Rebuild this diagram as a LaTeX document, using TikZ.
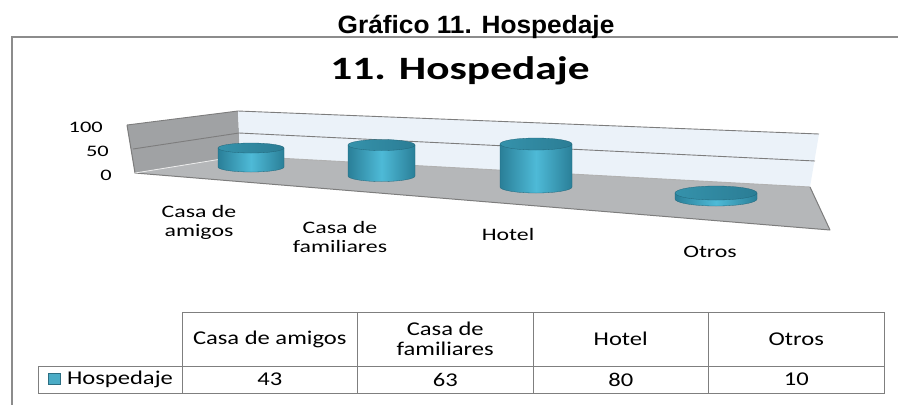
\documentclass[tikz,border=0pt]{standalone}
\usepackage{fontspec}
\setmainfont{Carlito}[FakeStretch=1.26]
\newfontfamily\headfont{Liberation Sans}[FakeStretch=1.05]
\newfontfamily\titlefont{Carlito}[FakeStretch=1.33]
\newfontfamily\chartfont{Carlito}[FakeStretch=1.36]
\newfontfamily\axisfont{Carlito}[FakeStretch=1.4]
\usetikzlibrary{positioning}

\definecolor{framegray}{HTML}{8C8C8C}
\definecolor{tabline}{HTML}{7F7F7F}
\definecolor{sidewall}{HTML}{A0A2A4}
\definecolor{backwall}{HTML}{EBF2F9}
\definecolor{floorgray}{HTML}{B5B7B9}
\definecolor{gridgray}{HTML}{7D7D7D}
\definecolor{cyldark}{HTML}{2A7F98}
\definecolor{cyllight}{HTML}{4EBAD7}
\definecolor{cyltopl}{HTML}{3592AB}
\definecolor{cyltopr}{HTML}{2B7D95}
\definecolor{keyfill}{HTML}{4BACC6}
\definecolor{keydraw}{HTML}{2C6E82}

\tikzset{
  gridline/.style={draw=gridgray, line width=0.9pt},
  edgeline/.style={draw=gridgray, line width=1pt, line join=round},
  cylbody/.style={left color=cyldark, right color=cyldark, middle color=cyllight, draw=cyldark!80!black, line width=0.3pt},
  cyltop/.style={left color=cyltopl, right color=cyltopr, draw=cyldark!80!black, line width=0.3pt},
  catlabel/.style={font=\chartfont\fontsize{17.5}{19}\selectfont, align=center, inner sep=0pt},
  axislabel/.style={font=\axisfont\fontsize{16}{16}\selectfont, inner sep=0pt, anchor=base east},
  cell/.style={draw=tabline, line width=1pt, outer sep=0pt, inner sep=0pt, minimum width=175.5pt, minimum height=54pt},
  cellrow/.style={cell, minimum height=27pt},
  celltext/.style={font=\fontsize{19.5}{19.5}\selectfont, align=center, inner sep=0pt},
  keybox/.style={draw=keydraw, fill=keyfill, line width=0.8pt, minimum width=12pt, minimum height=11pt, inner sep=0pt}
}

\begin{document}
\begin{tikzpicture}[x=1pt,y=-1pt]
    \useasboundingbox (0,0) rectangle (898,405);
    % frame and headings
    \draw[framegray, line width=1.5pt] (898,37) -- (12,37) -- (12,405);
    \node[font=\headfont\bfseries\fontsize{25}{25}\selectfont, anchor=base, inner sep=0pt] (head) at (476,33) {Gráfico 11. Hospedaje};
    \node[font=\titlefont\bfseries\fontsize{32.6}{33}\selectfont, anchor=base, inner sep=0pt] (title) at (460,79) {11. Hospedaje};
    % walls and floor
    \fill[sidewall] (127,125) -- (238,111) -- (240,156) -- (135,173) -- cycle;
    \fill[backwall] (238,111) -- (819,134) -- (810,187) -- (240,156) -- cycle;
    \fill[floorgray] (135,173) -- (240,156) -- (810,187) -- (830,230) -- cycle;
    \draw[gridline] (127,125) -- (238,111) -- (819,134);
    \draw[gridline] (133,149) -- (239,133) -- (815,161);
    \draw[gridline, draw=gridgray!60] (240,156) -- (810,187);
    \draw[edgeline] (127,125) -- (135,173) -- (830,230) -- (810,187);
    \draw[draw=white!85!gray, line width=0.8pt] (135,173) -- (240,156);
    % axis values
    \node[axislabel] (v100) at (103,132) {100};
    \node[axislabel] (v50) at (109,156) {50};
    \node[axislabel] (v0) at (112,180) {0};
    % cylinders
    \path[cylbody] (218,148) -- (218,167) arc[start angle=180, end angle=360, x radius=33pt, y radius=5pt] -- (284,148) -- cycle;
    \path[cyltop] (251,148) ellipse[x radius=33pt, y radius=5pt];
    \path[cylbody] (348,145) -- (348,176) arc[start angle=180, end angle=360, x radius=33.5pt, y radius=5.5pt] -- (415,145) -- cycle;
    \path[cyltop] (381.5,145) ellipse[x radius=33.5pt, y radius=5.5pt];
    \path[cylbody] (500,144) -- (500,187) arc[start angle=180, end angle=360, x radius=36pt, y radius=6pt] -- (572,144) -- cycle;
    \path[cyltop] (536,144) ellipse[x radius=36pt, y radius=6pt];
    \path[cylbody] (675,193) -- (675,199) arc[start angle=180, end angle=360, x radius=41pt, y radius=7pt] -- (757,193) -- cycle;
    \path[cyltop] (716,193) ellipse[x radius=41pt, y radius=7pt];
    % category labels
    \node[catlabel] (camigos) at (199,222) {Casa de\\amigos};
    \node[catlabel] (cfamiliares) at (340,237) {Casa de\\familiares};
    \node[catlabel, anchor=base] (chotel) at (508,240) {Hotel};
    \node[catlabel, anchor=base] (cotros) at (710,257) {Otros};
    % data table
    \node[cell, anchor=north west] (hamigos) at (182,312) {};
    \node[cell, right=0pt of hamigos] (hfamiliares) {};
    \node[cell, right=0pt of hfamiliares] (hhotel) {};
    \node[cell, right=0pt of hhotel] (hotros) {};
    \node[cellrow, below=0pt of hamigos] (damigos) {};
    \node[cellrow, below=0pt of hfamiliares] (dfamiliares) {};
    \node[cellrow, below=0pt of hhotel] (dhotel) {};
    \node[cellrow, below=0pt of hotros] (dotros) {};
    \node[cellrow, minimum width=144pt, left=0pt of damigos] (dserie) {};
    \node[celltext] at (hamigos) {Casa de amigos};
    \node[celltext] at (hfamiliares) {Casa de\\familiares};
    \node[celltext] at (hhotel) {Hotel};
    \node[celltext] at (hotros) {Otros};
    \node[celltext] at (damigos) {43};
    \node[celltext] at (dfamiliares) {63};
    \node[celltext] at (dhotel) {80};
    \node[celltext] at (dotros) {10};
    \node[keybox] (key) at (54.5,379) {};
    \node[celltext, right=6pt of key] (serie) {Hospedaje};
\end{tikzpicture}
\end{document}
